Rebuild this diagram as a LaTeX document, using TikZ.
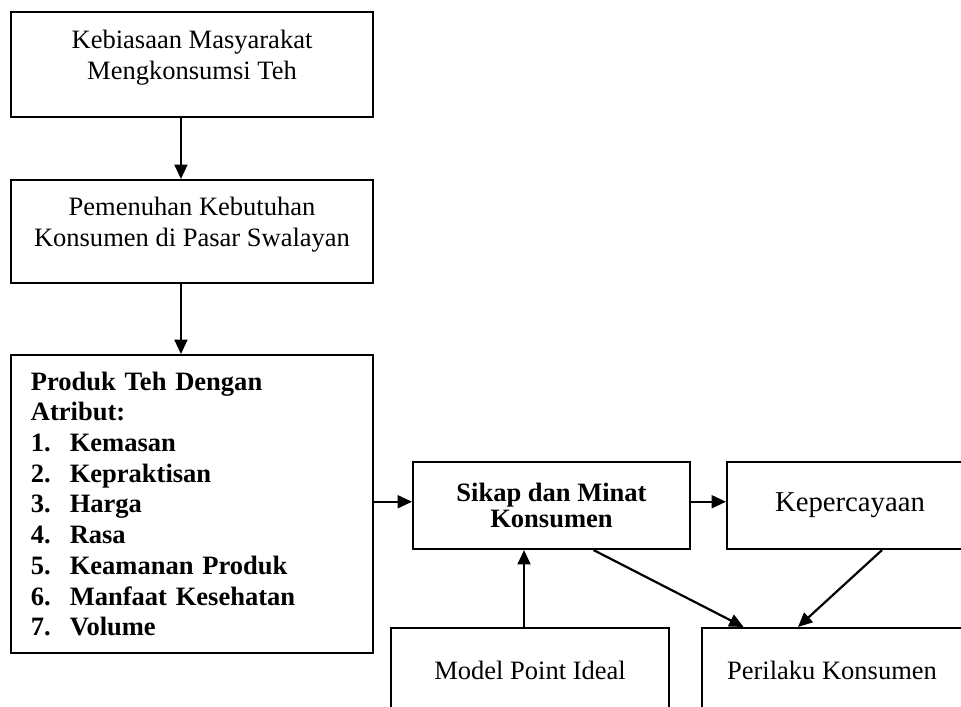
\documentclass[tikz,border=0pt]{standalone}
\usepackage{fontspec}
\setmainfont{Liberation Serif}
\usetikzlibrary{arrows.meta}
\newcommand{\nomor}[1]{\makebox[17.6pt][l]{#1}}
\begin{document}
\begin{tikzpicture}[x=0.4525pt, y=-0.4525pt,
    >={Triangle[length=6.5pt,width=5.8pt]},
    kotak/.style={draw, line width=0.9pt, align=center, inner sep=0pt,
        font=\fontsize{12}{14}\selectfont},
    panah/.style={->, line width=1pt}]
    % 0. Batas gambar
    \clip (0,0) rectangle (961,707);

    % 1. Kotak kiri
    \node[kotak, minimum width=163.8pt, minimum height=47.5pt] (keb) at (192,64.5)
        {Kebiasaan Masyarakat\\Mengkonsumsi Teh\\[-5pt]\mbox{}};
    \node[kotak, minimum width=163.8pt, minimum height=46.6pt] (pem) at (192,231.5)
        {Pemenuhan Kebutuhan\\Konsumen di Pasar Swalayan\\[-5pt]\mbox{}};
    \node[kotak, align=left, text width=145.8pt, minimum width=163.8pt,
        minimum height=134.8pt, font=\bfseries\fontsize{12}{13.9}\selectfont] (prod) at (192,504)
        {Produk Teh Dengan\\Atribut:\\
         \nomor{1.}Kemasan\\
         \nomor{2.}Kepraktisan\\
         \nomor{3.}Harga\\
         \nomor{4.}Rasa\\
         \nomor{5.}Keamanan Produk\\
         \nomor{6.}Manfaat Kesehatan\\
         \nomor{7.}Volume};

    % 2. Kotak kanan
    \node[kotak, minimum width=125.3pt, minimum height=39.4pt,
        font=\bfseries\fontsize{12}{11.8}\selectfont] (sikap) at (551.5,505.5)
        {Sikap dan Minat\\Konsumen};
    \node[kotak, minimum width=111.3pt, minimum height=39.4pt,
        font=\fontsize{13}{15}\selectfont] (kep) at (850,505.5) {Kepercayaan};
    \node[kotak, minimum width=125.8pt, minimum height=38pt] (model) at (530,670)
        {Model Point Ideal};
    \node[kotak, minimum width=117.6pt, minimum height=38pt] (perilaku) at (832,670)
        {Perilaku Konsumen};

    % 3. Panah
    \draw[panah] ([xshift=-5pt]keb.south) -- ([xshift=-5pt]pem.north);
    \draw[panah] ([xshift=-5pt]pem.south) -- ([xshift=-5pt]prod.north);
    \draw[panah] ([yshift=1.7pt]sikap.west -| prod.east) -- ([yshift=1.7pt]sikap.west);
    \draw[panah] ([yshift=1.7pt]sikap.east) -- ([yshift=1.7pt]kep.west);
    \draw[panah] ([xshift=-2.7pt]model.north) -- ([xshift=-2.7pt]model.north |- sikap.south);
    \draw[panah] ([xshift=19pt]sikap.south) -- ([xshift=-40pt]perilaku.north);
    \draw[panah] ([xshift=14.5pt]kep.south) -- ([xshift=-15.4pt]perilaku.north);
\end{tikzpicture}
\end{document}
